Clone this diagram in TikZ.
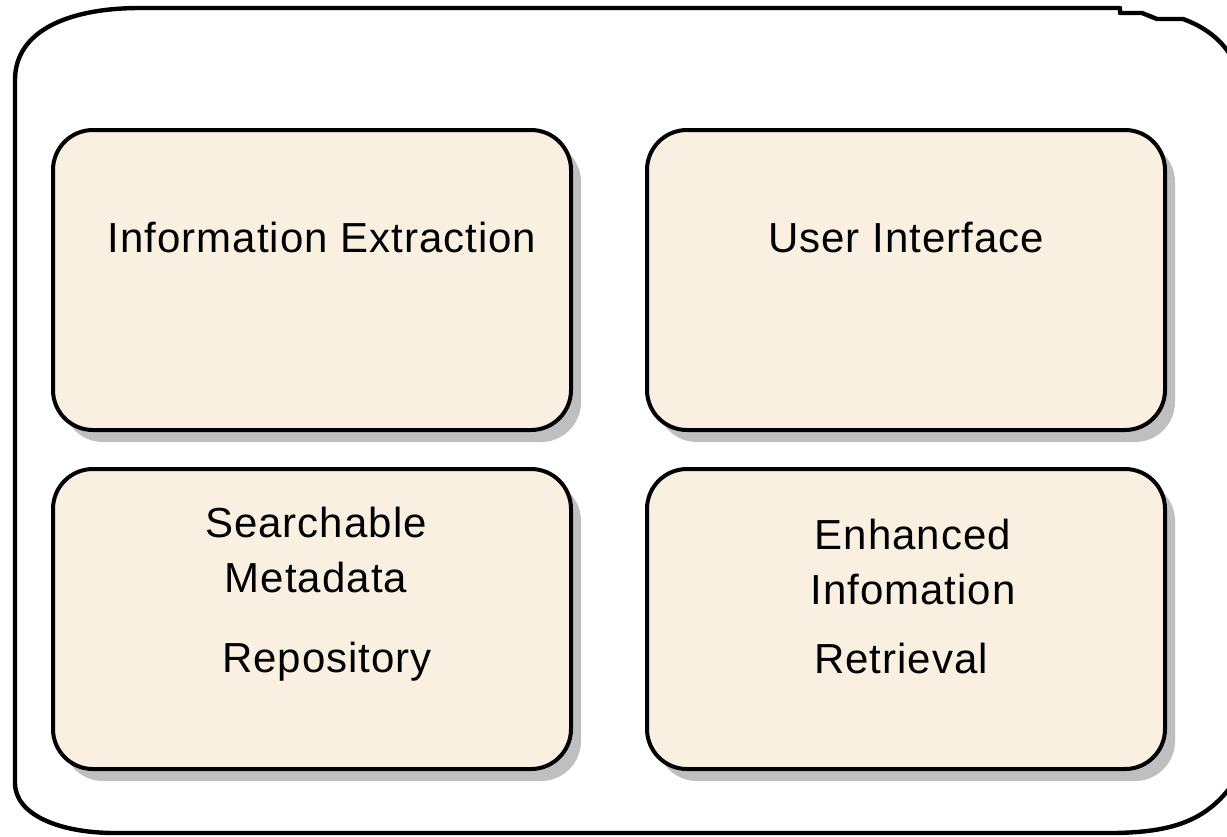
\documentclass[tikz,border=0pt]{standalone}
\usepackage{fontspec}
\usepackage{tikz}
\usetikzlibrary{positioning,shadows}
\newfontfamily\boxfont{Liberation Sans}[LetterSpace=2.4]
\definecolor{boxfill}{HTML}{FAF0E2}
\tikzstyle{module} = [rectangle, rounded corners=20pt, minimum width=259pt, minimum height=150pt, draw=black, line width=2pt, fill=boxfill, drop shadow={shadow xshift=5pt, shadow yshift=-6pt, fill=black!25, opacity=1}]
\tikzstyle{modtext} = [inner sep=0pt, anchor=north, align=center, font=\boxfont\fontsize{21}{27.5}\selectfont]
\tikzstyle{outline} = [line width=2.2pt, line join=round]

\begin{document}
\begin{tikzpicture}[x=0.5pt, y=-0.5pt]
\useasboundingbox (0,0) rectangle (1227,836);
% outer frame
\draw[outline] (140,8) -- (1120,8) -- (1120,13) -- (1142,13) -- (1157,19) -- (1183,19)
  .. controls (1205,27) and (1222,40) .. (1232,58) -- (1232,785)
  .. controls (1205,822) and (1170,832) .. (1115,833) -- (115,833)
  .. controls (60,833) and (15,815) .. (15,783) -- (15,80)
  .. controls (15,30) and (70,8) .. (140,8);
% modules
\node (ie) [module] at (312,280) {};
\node (ui) [module, right=36pt of ie] {};
\node (sm) [module, below=17.5pt of ie] {};
\node (ei) [module, below=17.5pt of ui] {};
% texts
\node (ietxt) [modtext, below=47pt of ie.north, xshift=5pt] {Information Extraction};
\node (uitxt) [modtext, below=47pt of ui.north] {User Interface};
\node (smtxt) [modtext, below=20pt of sm.north, xshift=2pt] {Searchable\\Metadata\\[12.5pt]\hspace*{11pt}Repository};
\node (eitxt) [modtext, below=26pt of ei.north, xshift=3.5pt] {Enhanced\\Infomation\\[7pt]Retrieval\hspace*{12pt}};
\end{tikzpicture}
\end{document}
